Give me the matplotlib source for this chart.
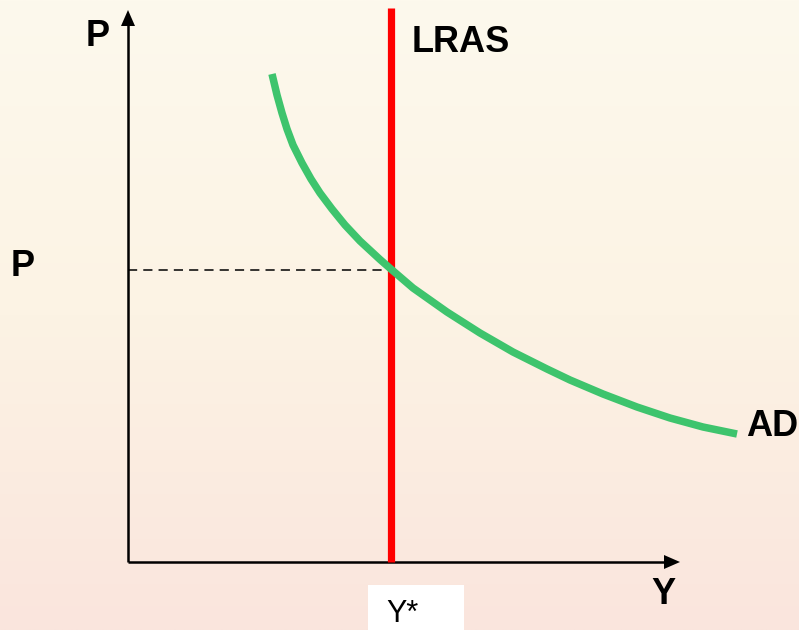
import matplotlib
matplotlib.use("Agg")
import matplotlib.pyplot as plt
import numpy as np

# Data (in chart units; y grows downward)
ad_x = [272, 277, 282, 287, 293, 302, 311, 320, 332, 345, 360, 380, 392, 413, 447, 480, 513, 547, 570, 603, 637, 670, 703, 737]
ad_y = [74, 95, 113, 129, 145, 163, 179, 193, 209, 225, 241, 259.5, 270, 288, 312, 333, 352, 369, 380, 394, 407, 418, 427, 434]
y_star = 391
p_star = 270
lras_top = 8
origin = (128, 562)
x_axis_end = 680
y_axis_end = 10
labels = {"P_axis": "P", "P_eq": "P", "LRAS": "LRAS", "AD": "AD", "Y_axis": "Y", "Y_eq": "Y*"}

plt.rcParams['font.family'] = ['Liberation Sans', 'DejaVu Sans']
fig = plt.figure(figsize=(7.99, 6.30), dpi=100)
ax = fig.add_axes([0, 0, 1, 1])
ax.set_xlim(0, 799)
ax.set_ylim(630, 0)
ax.axis('off')

# background gradient
top = np.array([253, 249, 237]) / 255
mid = np.array([252, 243, 228]) / 255
bot = np.array([250, 229, 221]) / 255
t = np.linspace(0, 1, 256)[:, None]
grad = np.where(t < 0.5, top + (mid - top) * (t / 0.5), mid + (bot - mid) * ((t - 0.5) / 0.5))
img = np.repeat(grad[:, None, :], 2, axis=1)
ax.imshow(img, extent=(0, 799, 630, 0), aspect='auto', zorder=0)

ox, oy = origin
# axes lines
ax.plot([ox, ox], [oy, y_axis_end + 12], color='black', lw=1.8, zorder=3, solid_capstyle='butt')
ax.plot([ox, x_axis_end - 12], [oy, oy], color='black', lw=1.8, zorder=3, solid_capstyle='butt')
ax.fill([ox - 7, ox + 7, ox], [y_axis_end + 16, y_axis_end + 16, y_axis_end], color='black', zorder=3, lw=0)
ax.fill([x_axis_end - 16, x_axis_end - 16, x_axis_end], [oy - 7, oy + 7, oy], color='black', zorder=3, lw=0)

# dashed line to P
ax.plot([ox, y_star], [p_star, p_star], color='black', lw=1.1, ls=(0, (6, 4)), zorder=2)

# LRAS
ax.plot([y_star, y_star], [lras_top, oy], color='#ff0000', lw=5.2, zorder=4, solid_capstyle='butt')

# AD
ax.plot(ad_x, ad_y, color='#3ec46d', lw=5.4, zorder=5, solid_capstyle='butt', solid_joinstyle='round')

# labels
fs = 26
ax.text(98, 37, labels["P_axis"], fontsize=fs, fontweight='bold', ha='center', va='center')
ax.text(23, 267, labels["P_eq"], fontsize=fs, fontweight='bold', ha='center', va='center')
ax.text(412, 42, labels["LRAS"], fontsize=fs, fontweight='bold', ha='left', va='center')
ax.text(746, 427, labels["AD"], fontsize=fs, fontweight='bold', ha='left', va='center')
ax.text(663, 595, labels["Y_axis"], fontsize=fs, fontweight='bold', ha='center', va='center')

# Y* box
ax.fill([368, 464, 464, 368], [585, 585, 632, 632], color='white', zorder=6, lw=0)
ax.text(386, 614, labels["Y_eq"], fontsize=22, ha='left', va='center', zorder=7)

fig.savefig('out.png', dpi=100)
